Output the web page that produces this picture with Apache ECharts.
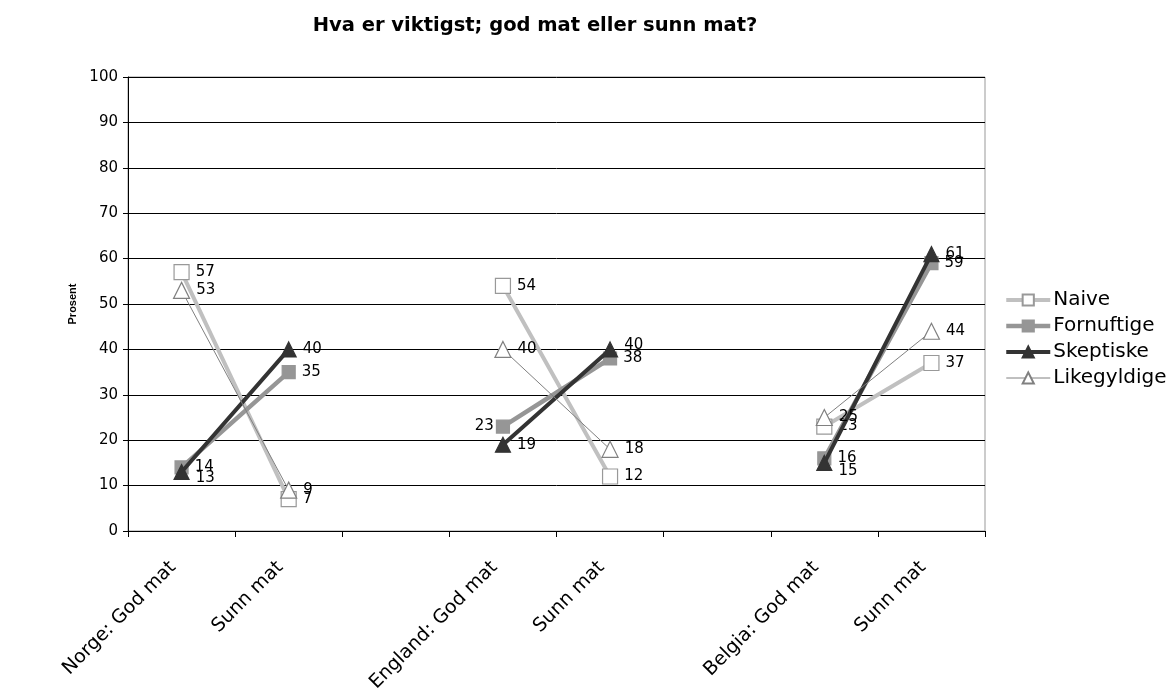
<!DOCTYPE html>
<html>
<head>
<meta charset="utf-8">
<script src="https://cdn.jsdelivr.net/npm/echarts@6/dist/echarts.min.js"></script>
<style>html,body{margin:0;padding:0;background:#fff;}#c{width:1176px;height:700px;}</style>
</head>
<body>
<div id="c"></div>
<script>
const categories = ['Norge: God mat', 'Sunn mat', '', 'England: God mat', 'Sunn mat', '', 'Belgia: God mat', 'Sunn mat'];
const naive       = [57, 7, null, 54, 12, null, 23, 37];
const fornuftige  = [14, 35, null, 23, 38, null, 16, 59];
const skeptiske   = [13, 40, null, 19, 40, null, 15, 61];
const likegyldige = [53, 9, null, 40, 18, null, 25, 44];
const yTicks = [0, 10, 20, 30, 40, 50, 60, 70, 80, 90, 100];
const seriesNames = ['Naive', 'Fornuftige', 'Skeptiske', 'Likegyldige'];

const FONT = 'DejaVu Sans';
const labelBase = { show: true, position: 'right', distance: 6, color: '#000', fontSize: 15, fontFamily: FONT };

// per-point label tweaks (presentation only)
const labelTweaks = {
  'Fornuftige': { 3: { position: 'left', distance: 2 } },
  'Skeptiske': { 0: { offset: [0, 6] }, 4: { offset: [0, -4] }, 6: { offset: [0, 8] } }
};

function buildData(name, arr) {
  const tw = labelTweaks[name] || {};
  return arr.map((v, i) => tw[i] ? { value: v, label: tw[i] } : v);
}

function mk(name, arr, lineColor, lineWidth, symbol, symbolSize, fill, border, z) {
  return {
    name: name,
    type: 'line',
    data: buildData(name, arr),
    symbol: symbol,
    symbolSize: symbolSize,
    showAllSymbol: true,
    connectNulls: false,
    z: z,
    lineStyle: { color: lineColor, width: lineWidth },
    itemStyle: { color: fill, borderColor: border, borderWidth: 1.2 },
    label: labelBase,
    emphasis: { disabled: true },
    animation: false
  };
}

const legendWidths = [4, 4.5, 4, 1];

const chart = echarts.init(document.getElementById('c'));
chart.setOption({
  backgroundColor: '#fff',
  animation: false,
  title: {
    text: 'Hva er viktigst; god mat eller sunn mat?',
    left: 530, top: 11, textAlign: 'center',
    textStyle: { fontFamily: FONT, fontWeight: 'bold', fontSize: 19.5, color: '#000' }
  },
  legend: {
    orient: 'vertical',
    left: 999, top: 285,
    itemWidth: 44, itemHeight: 14, itemGap: 6,
    textStyle: { fontFamily: FONT, fontSize: 20, color: '#000', padding: [0, 0, 0, -2] },
    data: seriesNames.map((n, i) => ({ name: n, lineStyle: { width: legendWidths[i] } }))
  },
  grid: { left: 128, right: 191, top: 77, bottom: 169, show: true, borderColor: '#999', borderWidth: 1, backgroundColor: 'transparent' },
  xAxis: {
    type: 'category',
    data: categories,
    boundaryGap: true,
    axisLine: { lineStyle: { color: '#000', width: 1 } },
    axisTick: { show: true, length: 6, inside: false, lineStyle: { color: '#000' } },
    axisLabel: { interval: 0, rotate: 45, margin: 25, padding: [0, 12, 0, 0], fontFamily: FONT, fontSize: 19, color: '#000' },
    splitLine: { show: false }
  },
  yAxis: {
    type: 'value',
    min: yTicks[0], max: yTicks[yTicks.length - 1], interval: 10,
    name: 'Prosent', nameLocation: 'middle', nameRotate: 90, nameGap: 48,
    nameTextStyle: { fontFamily: 'Liberation Sans', fontWeight: 'bold', fontSize: 11, color: '#000' },
    axisLine: { show: true, lineStyle: { color: '#000', width: 1 } },
    axisTick: { show: true, length: 5, lineStyle: { color: '#000' } },
    axisLabel: { fontFamily: FONT, fontSize: 15, color: '#000', margin: 10 },
    splitLine: { show: true, lineStyle: { color: '#000', width: 1 } }
  },
  series: [
    mk('Naive', naive, '#c0c0c0', 4, 'rect', 15, '#fff', '#999', 2),
    mk('Fornuftige', fornuftige, '#969696', 4.5, 'rect', 13, '#969696', '#969696', 3),
    mk('Skeptiske', skeptiske, '#333333', 4, 'triangle', 15, '#333333', '#333333', 4),
    mk('Likegyldige', likegyldige, '#808080', 1, 'triangle', 16, '#fff', '#808080', 5)
  ]
});
</script>
</body>
</html>
